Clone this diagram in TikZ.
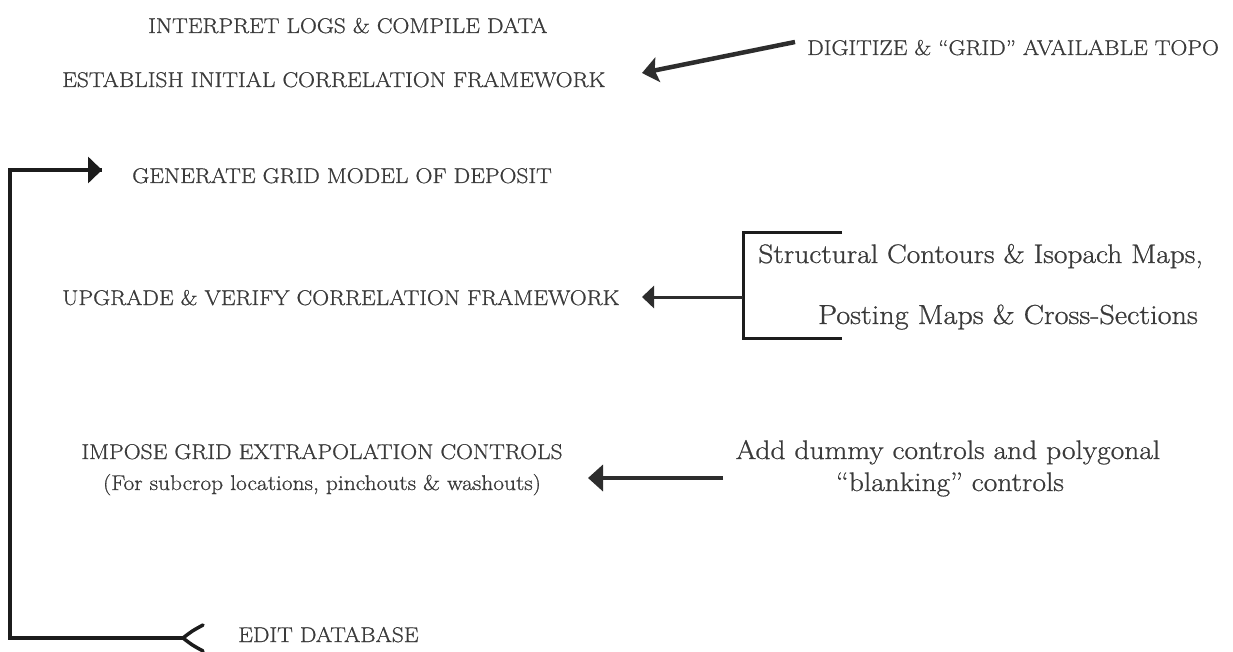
\documentclass[tikz,border=0pt]{standalone}
\usepackage{fontspec}
\setmainfont{Latin Modern Roman}[FakeStretch=1.1, FakeBold=0.8]
\usetikzlibrary{arrows.meta}

\definecolor{ink}{RGB}{58,58,58}
\definecolor{rule}{RGB}{28,28,28}
\definecolor{shaft}{RGB}{45,45,45}

\begin{document}
\begin{tikzpicture}[x=1pt, y=-1pt,
  caps/.style={inner sep=0pt, text=ink, font=\fontsize{21.3}{25}\selectfont},
  mixed/.style={inner sep=0pt, text=ink, font=\fontsize{26.8}{31}\selectfont},
  loopline/.style={draw=rule, line width=3.5pt},
  bracketline/.style={draw=rule, line width=3pt},
  bigarrow/.style={draw=shaft, line width=4.5pt,
    -{Stealth[length=16pt, width=25pt, inset=3pt]}},
  ctlarrow/.style={draw=shaft, line width=4.5pt,
    -{Triangle[length=15pt, width=26pt]}},
  midarrow/.style={draw=shaft, line width=3pt,
    -{Triangle[length=12pt, width=22pt]}},
  genarrow/.style={draw=rule, line width=3.5pt,
    -{Triangle[length=14pt, width=26pt]}}
]
\useasboundingbox[fill=white] (0,0) rectangle (1233,652);

% step texts
\node[caps, anchor=base west] (interp) at (148,33)  {INTERPRET LOGS \& COMPILE DATA};
\node[caps, anchor=base west] (estab)  at (62,87)   {ESTABLISH INITIAL CORRELATION FRAMEWORK};
\node[caps, anchor=base west] (topo)   at (807,55)  {DIGITIZE \& ``GRID'' AVAILABLE TOPO};
\node[caps, anchor=base west] (gen)    at (132,183) {GENERATE GRID MODEL OF DEPOSIT};
\node[caps, anchor=base west] (upg)    at (62,305)  {UPGRADE \& VERIFY CORRELATION FRAMEWORK};
\node[caps, anchor=base]      (impose) at (322,459) {IMPOSE GRID EXTRAPOLATION CONTROLS};
\node[caps, anchor=base]      (forsub) at (322,490) {(For subcrop locations, pinchouts \& washouts)};
\node[caps, anchor=base west] (edit)   at (238,642) {EDIT DATABASE};

% source texts on the right
\node[mixed, anchor=base east] (struct) at (1203,263) {Structural Contours \& Isopach Maps,};
\node[mixed, anchor=base, font=\fontsize{27.5}{31}\selectfont] (post) at (1008,324) {Posting Maps \& Cross-Sections};
\node[mixed, anchor=base] (dummy) at (948,459) {Add dummy controls and polygonal};
\node[mixed, anchor=base] (blank) at (950,491) {``blanking'' controls};

% topo feeds the correlation framework
\coordinate (topoTail) at (795,42);
\coordinate (topoTip)  at (642,73);
\draw[bigarrow] (topoTail) -- (topoTip);

% map bracket feeding the upgrade step
\coordinate (brTop) at (743,233);
\coordinate (brBot) at (743,338);
\coordinate (brMid) at (743,297);
\coordinate (brTip) at (642,297);
\draw[bracketline] (842,233) -- (brTop) -- (brBot) -- (842,338);
\draw[midarrow] (brMid) -- (brTip);

% extrapolation controls arrow
\coordinate (ctlTail) at (723,478);
\coordinate (ctlTip)  at (588,478);
\draw[ctlarrow] (ctlTail) -- (ctlTip);

% edit loop back to the grid model
\coordinate (editEnd) at (183,638);
\coordinate (cornerB) at (10,638);
\coordinate (cornerT) at (10,170);
\coordinate (genTip)  at (102,170);
\draw[loopline] (editEnd) -- (cornerB) -- (cornerT) -- (genTip);
\draw[genarrow] (cornerT) -- (genTip);
\draw[loopline, line cap=round]
  (203,625) .. controls (192,631) .. (editEnd)
  .. controls (192,645) .. (203,651);
\end{tikzpicture}
\end{document}
